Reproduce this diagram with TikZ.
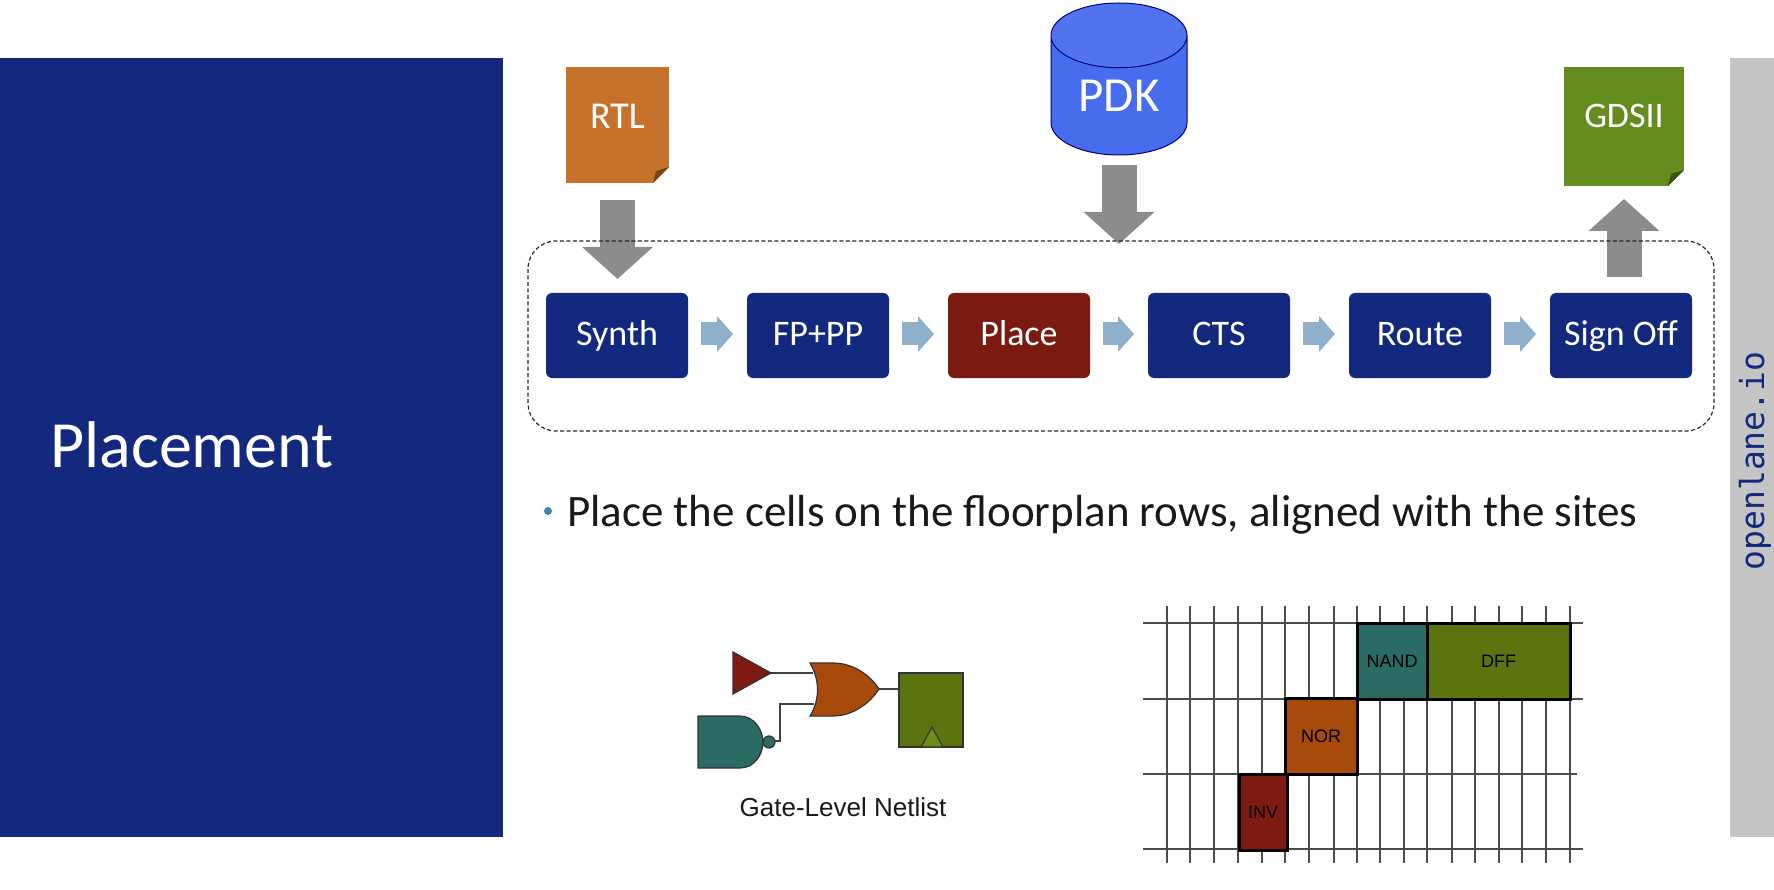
\documentclass[tikz,border=0pt]{standalone}
\usepackage{fontspec}
\setmainfont{Carlito}
\newfontfamily\arialfont{Liberation Sans}
\newfontfamily\monofont{DejaVu Sans Mono}
\usepackage{xcolor}
\usepackage{tikz}
\usetikzlibrary{arrows.meta,shapes.geometric}

\definecolor{navy}{HTML}{12297D}
\definecolor{brick}{HTML}{7A1A10}
\definecolor{rtlorange}{HTML}{C6722A}
\definecolor{gdsgreen}{HTML}{648C1E}
\definecolor{pdkblue}{HTML}{486CEE}
\definecolor{flowblue}{HTML}{8FB0CB}
\definecolor{bulletblue}{HTML}{3A87A8}
\definecolor{cellteal}{HTML}{2A6B66}
\definecolor{cellolive}{HTML}{5A7510}
\definecolor{clockolive}{HTML}{6E8C1C}
\definecolor{cellorange}{HTML}{A84A0C}
\definecolor{cellred}{HTML}{7E1A12}
\newcommand{\fsize}[1]{\fontsize{#1}{#1}\selectfont}

\begin{document}
\begin{tikzpicture}[x=1pt, y=-1pt, every node/.style={inner sep=0pt, outer sep=0pt}]

% Define styles for layers
\tikzstyle{stage} = [fill=navy, text=white, rounded corners=6pt, minimum width=142pt, minimum height=85pt, text height=26pt, text depth=6pt, font=\fsize{36}]
\tikzstyle{document} = [text=white, font=\fsize{36}]
\tikzstyle{bigarrow} = [draw=black!45, line width=35pt, -{Triangle[length=32pt,width=69pt]}]
\tikzstyle{flowarrow} = [draw=flowblue, line width=23pt, -{Triangle[length=16pt,width=35pt]}, shorten <=13pt, shorten >=14pt, transform canvas={yshift=1.5pt}]
\tikzstyle{wire} = [draw=black!75, line width=1.2pt]
\tikzstyle{gate} = [draw=black!80, line width=1.2pt]
\tikzstyle{gridline} = [draw=black!70, line width=1.5pt]
\tikzstyle{cell} = [draw=black, line width=3pt, text=black, font=\arialfont\fsize{18}, minimum height=76pt]

\useasboundingbox (0,0) rectangle (1774,890);

% Title panel and side bar
\fill[navy] (0,58) rectangle (503,837);
\fill[black!23] (1730,58) rectangle (1774,837);
\node (title) at (192,445) [text=white, font=\fsize{66}] {Placement};
\node (site) at (1755,461) [rotate=90, text=navy, font=\monofont\fsize{33}] {openlane.io};

% Flow stages
\node (synth) at (617,335.5) [stage] {Synth};
\node (fppp) at (818,335.5) [stage] {FP+PP};
\node (place) at (1019,335.5) [stage, fill=brick] {Place};
\node (cts) at (1219,335.5) [stage] {CTS};
\node (route) at (1420,335.5) [stage] {Route};
\node (signoff) at (1621,335.5) [stage] {Sign Off};
\node (flow) at (1121,336) [minimum width=1186pt, minimum height=190pt] {};

% Input and output files
\node (rtl) at (617.5,125) [document, fill=rtlorange, minimum width=103pt, minimum height=116pt, text height=24pt, text depth=16pt, font=\fsize{38}] {RTL};
\node (gdsii) at (1624,126.5) [document, fill=gdsgreen, minimum width=120pt, minimum height=119pt, text height=23pt, text depth=21pt] {GDSII};
\foreach \f/\c in {rtl/rtlorange, gdsii/gdsgreen} {
  \fill[white] ([xshift=-16pt]\f.south east) -- (\f.south east) -- ([yshift=16pt]\f.south east) -- cycle;
  \fill[\c!60!black] ([xshift=-16pt]\f.south east) -- ([yshift=16pt]\f.south east) -- ([xshift=-13pt,yshift=12pt]\f.south east) -- cycle;
}

% PDK cylinder
\node (pdk) at (1119,155) [anchor=south, cylinder, shape border rotate=90, aspect=0.8, minimum width=136pt, minimum height=152pt, draw=blue!50!black, line width=1pt, cylinder uses custom fill, cylinder body fill=pdkblue, cylinder end fill=pdkblue!95!white, text=white, font=\fsize{49}] {PDK};

% Thick arrows in and out of the flow
\draw[bigarrow, shorten <=17pt, shorten >=14pt] (rtl.south) -- (rtl.south |- synth.north);
\draw[bigarrow, shorten <=10pt, shorten >=-3pt] (pdk.south) -- (pdk.south |- flow.north);
\draw[bigarrow, shorten <=16pt, shorten >=13pt] (gdsii.south |- signoff.north) -- (gdsii.south);

% Flow box
\draw[black!85, line width=1.2pt, dash pattern=on 4pt off 2.5pt, rounded corners=28pt] (flow.north west) rectangle (flow.south east);

% Arrows between stages
\foreach \a/\b in {synth/fppp, fppp/place, place/cts, cts/route, route/signoff} {
  \draw[flowarrow] (\a) -- (\b);
}

% Bullet text
\node (bullet) at (548,511) [circle, fill=bulletblue, minimum size=8pt] {};
\node (text) at (567,526) [anchor=base west, text=black!90, font=\fsize{45}] {Place the cells on the floorplan rows, aligned with the sites};

% Gate-level netlist
\coordinate (invout) at (771,673);
\coordinate (orina) at (813,673);
\coordinate (orinb) at (814,704);
\coordinate (orout) at (879,689);
\coordinate (bubout) at (775,741);
\coordinate (dffin) at (899,689);
\draw[wire] (invout) -- (orina);
\draw[wire] (orout) -- (dffin);
\draw[wire] (bubout) -| (780,704) -- (orinb);
\filldraw[gate, fill=cellred] (733,652) -- (771,673) -- (733,694) -- cycle;
\filldraw[gate, fill=cellorange] (810,663) -- (833,663) .. controls (853,663) and (870,675) .. (879,689) .. controls (870,703) and (853,716) .. (833,716) -- (810,716) .. controls (820,700) and (820,680) .. (810,663) -- cycle;
\filldraw[gate, fill=cellteal] (698,716) -- (740,716) .. controls (754,716) and (763,730) .. (763,742) .. controls (763,755) and (754,768) .. (740,768) -- (698,768) -- cycle;
\filldraw[gate, fill=cellteal] (769,742) circle (6pt);
\filldraw[gate, fill=cellolive] (899,673) rectangle (963,747);
\filldraw[gate, fill=clockolive] (921,747) -- (932,727) -- (943,747) -- cycle;
\node (netlist) at (843,807) [text=black!90, font=\arialfont\fsize{26}] {Gate-Level Netlist};

% Floorplan rows and sites
\foreach \x in {1167,1190,1214,1238,1262,1285,1309,1334,1357,1380,1404,1427,1452,1475,1499,1522,1546,1570} {
  \draw[gridline] (\x,606) -- (\x,863);
}
\foreach \y/\e in {623/1583,699/1583,774/1577,849/1583} {
  \draw[gridline] (1143,\y) -- (\e,\y);
}

% Placed cells
\node (nand) at (1392,661) [cell, fill=cellteal, minimum width=70pt] {NAND};
\node (dff) at (1498.5,661) [cell, fill=cellolive, minimum width=143pt] {DFF};
\node (nor) at (1321,736.5) [cell, fill=cellorange, minimum width=72pt] {NOR};
\node (inv) at (1263,812) [cell, fill=cellred, minimum width=48pt] {INV};

\end{tikzpicture}
\end{document}
